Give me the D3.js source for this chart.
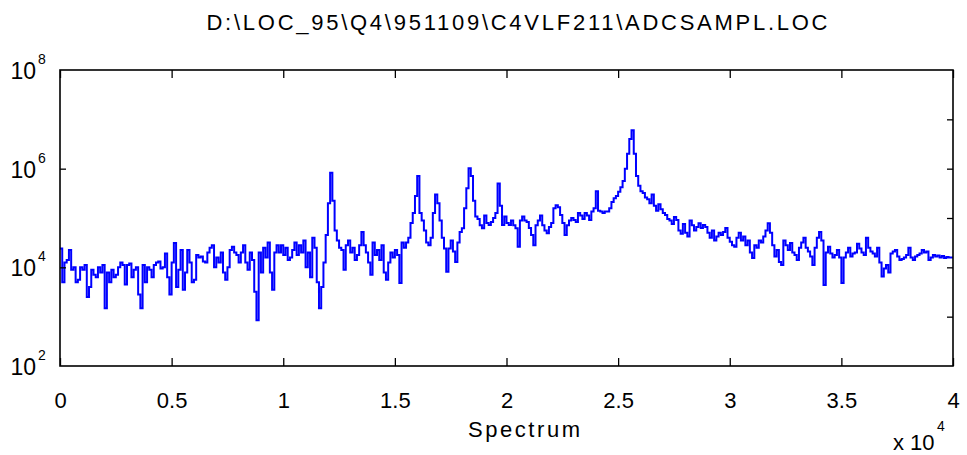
<!DOCTYPE html>
<html>
<head>
<meta charset="utf-8">
<script src="https://cdn.jsdelivr.net/npm/d3@7"></script>
<style>
  body { margin: 0; background: #fff; }
  text { font-family: "Liberation Sans", Arial, sans-serif; fill: #000; }
</style>
</head>
<body>
<div id="chart"></div>
<script>
// ---- data ----
const titleText = "D:\\LOC_95\\Q4\\951109\\C4VLF211\\ADCSAMPL.LOC";
const xLabel = "Spectrum";
const xTicks = [0, 5000, 10000, 15000, 20000, 25000, 30000, 35000, 40000];
const xTickLabels = ["0", "0.5", "1", "1.5", "2", "2.5", "3", "3.5", "4"];
const yLabelExps = ["2", "4", "6", "8"];
const yLabelValues = [1e2, 1e4, 1e6, 1e8];
const yRightTicks = [1e3, 1e4, 1e5, 1e6, 1e7];
const yLeftTicks = [1e4, 1e6];

// spectrum sampled every 100 (x units), 0 .. 40000
const freqStep = 100;
const power = [
  2.4e4, 5.0e3, 1.26e4, 1.41e4, 2.24e4, 8.9e3, 1.0e4, 5.0e3, 5.6e3, 1.0e4,
  8.9e3, 1.12e4, 2.5e3, 4.0e3, 8.9e3, 7.1e3, 6.3e3, 1.0e4, 7.9e3, 1.12e4,
  1.48e3, 7.9e3, 5.0e3, 8.9e3, 6.3e3, 7.1e3, 1.0e4, 1.26e4, 1.12e4, 4.5e3,
  1.12e4, 1.2e4, 6.3e3, 8.9e3, 1.0e4, 2.8e3, 1.48e3, 1.12e4, 5.0e3, 1.0e4,
  8.9e3, 6.3e3, 1.12e4, 1.26e4, 1.32e4, 9.5e3, 1.0e4, 1.9e4, 6.3e3, 2.8e3,
  1.26e4, 3.1e4, 4.0e3, 8.9e3, 2.24e4, 3.5e3, 7.9e3, 2.24e4, 1.26e4, 5.0e3,
  5.6e3, 1.78e4, 1.58e4, 1.66e4, 1.32e4, 1.26e4, 2.0e4, 2.5e4, 2.8e4, 1.0e4,
  1.58e4, 1.26e4, 2.0e4, 7.9e3, 5.6e3, 1.0e4, 2.24e4, 2.6e4, 2.0e4, 1.78e4,
  1.26e4, 2.0e4, 2.8e4, 1.26e4, 8.9e3, 2.0e4, 1.41e4, 3.2e3, 8.5e2, 2.0e4,
  7.9e3, 2.5e4, 1.58e4, 3.2e4, 7.9e3, 3.5e3, 2.0e4, 2.8e4, 2.0e4, 2.8e4,
  1.78e4, 2.5e4, 1.41e4, 1.58e4, 2.24e4, 3.2e4, 1.78e4, 2.8e4, 2.0e4, 3.5e4,
  1.0e4, 2.0e4, 6.3e3, 4.0e4, 2.5e4, 5.0e3, 1.48e3, 4.0e3, 1.26e4, 4.5e4,
  2.0e5, 8.3e5, 2.24e5, 5.6e4, 3.5e4, 2.5e4, 2.24e4, 8.9e3, 2.8e4, 3.5e4,
  2.0e4, 2.5e4, 1.41e4, 1.78e4, 2.8e4, 5.2e4, 2.8e4, 2.0e4, 1.26e4, 7.1e3,
  3.2e4, 1.78e4, 2.24e4, 1.41e4, 2.8e4, 7.9e3, 5.6e3, 1.26e4, 2.0e4, 1.58e4,
  2.24e4, 1.78e4, 4.8e3, 3.2e4, 2.5e4, 3.2e4, 4.0e4, 7.9e4, 1.26e5, 2.8e5,
  7.1e5, 1.26e5, 8.9e4, 5.6e4, 3.2e4, 2.8e4, 4.0e4, 1.26e5, 3.0e5, 2.0e5,
  8.9e4, 4.0e4, 2.4e4, 8.1e3, 2.4e4, 3.5e4, 2.1e4, 1.29e4, 3.2e4, 5.2e4,
  6.2e4, 1.58e5, 4.0e5, 1.02e6, 7.1e5, 2.24e5, 1.07e5, 9.5e4, 7.1e4, 6.2e4,
  1.12e5, 7.9e4, 7.2e4, 8.3e4, 1.0e5, 1.26e5, 5.0e5, 1.78e5, 7.2e4, 1.07e5,
  7.9e4, 7.2e4, 8.9e4, 7.1e4, 6.2e4, 2.6e4, 8.9e4, 1.07e5, 8.9e4, 8.3e4,
  6.3e4, 4.5e4, 2.8e4, 7.1e4, 8.9e4, 1.12e5, 7.1e4, 5.6e4, 4.9e4, 6.6e4,
  7.9e4, 1.58e5, 1.82e5, 1.66e5, 1.15e5, 7.9e4, 4.5e4, 7.1e4, 8.9e4, 1.0e5,
  9.1e4, 8.3e4, 1.26e5, 1.12e5, 9.5e4, 1.26e5, 1.12e5, 9.1e4, 1.35e5, 1.58e5,
  3.5e5, 1.41e5, 1.35e5, 1.26e5, 1.35e5, 1.35e5, 1.58e5, 2.1e5, 2.5e5, 2.8e5,
  3.4e5, 4.2e5, 5.6e5, 1.0e6, 2.0e6, 4.0e6, 6.0e6, 2.0e6, 7.1e5, 4.5e5,
  3.5e5, 3.2e5, 2.6e5, 2.4e5, 2.0e5, 3.0e5, 1.78e5, 1.41e5, 1.9e5, 1.51e5,
  1.26e5, 1.15e5, 9.5e4, 8.9e4, 7.6e4, 1.05e5, 9.1e4, 5.6e4, 4.8e4, 7.6e4,
  5.0e4, 4.2e4, 8.9e4, 7.1e4, 5.6e4, 6.6e4, 7.8e4, 6.3e4, 7.2e4, 6.6e4,
  5.0e4, 4.0e4, 5.6e4, 3.5e4, 4.2e4, 5.0e4, 4.5e4, 5.2e4, 6.3e4, 4.0e4,
  3.3e4, 2.8e4, 2.6e4, 4.0e4, 5.0e4, 3.5e4, 4.2e4, 2.8e4, 3.5e4, 2.0e4,
  1.55e4, 2.8e4, 2.5e4, 3.5e4, 3.2e4, 4.2e4, 5.6e4, 7.8e4, 5.0e4, 2.8e4,
  1.66e4, 2.24e4, 1.29e4, 1.12e4, 3.5e4, 2.8e4, 2.24e4, 3.1e4, 2.0e4, 1.78e4,
  1.41e4, 2.5e4, 3.2e4, 4.0e4, 2.5e4, 2.1e4, 1.66e4, 1.12e4, 2.5e4, 4.0e4,
  5.2e4, 3.5e4, 4.4e3, 2.0e4, 2.6e4, 1.9e4, 1.58e4, 1.78e4, 2.24e4, 1.58e4,
  4.8e3, 1.58e4, 2.0e4, 2.5e4, 1.66e4, 1.9e4, 2.0e4, 3.0e4, 2.4e4, 2.0e4,
  1.78e4, 4.0e4, 2.5e4, 2.1e4, 1.9e4, 1.66e4, 2.5e4, 1.26e4, 6.5e3, 9.5e3,
  1.12e4, 7.9e3, 1.9e4, 2.1e4, 2.24e4, 1.66e4, 1.41e4, 1.48e4, 1.58e4, 1.78e4,
  2.5e4, 1.58e4, 1.41e4, 1.66e4, 1.78e4, 1.9e4, 2.24e4, 2.0e4, 2.1e4, 1.41e4,
  1.58e4, 1.78e4, 1.66e4, 1.74e4, 1.58e4, 1.7e4, 1.55e4, 1.62e4, 1.58e4, 1.58e4,
  1.58e4
];

// ---- layout ----
const width = 967, height = 455;
const margin = { top: 70, right: 14, bottom: 89, left: 60 };
const plotW = width - margin.left - margin.right;
const plotH = height - margin.top - margin.bottom;

const svg = d3.select("#chart").append("svg")
  .attr("width", width)
  .attr("height", height);

const x = d3.scaleLinear().domain([0, 40000]).range([margin.left, margin.left + plotW]);
const y = d3.scaleLog().domain([1e2, 1e8]).range([margin.top + plotH, margin.top]);

// trace
const line = d3.line()
  .x((d, i) => x(i * freqStep))
  .y(d => y(d))
  .curve(d3.curveStepAfter);

svg.append("path")
  .datum(power)
  .attr("fill", "none")
  .attr("stroke", "#0000ff")
  .attr("stroke-width", 2)
  .attr("d", line);

// axes with inward ticks
const bottomAxis = svg.append("g")
  .attr("transform", `translate(0,${margin.top + plotH})`)
  .call(d3.axisBottom(x).tickValues(xTicks).tickSize(-8).tickPadding(26)
    .tickFormat((d, i) => xTickLabels[i]));

svg.append("g")
  .attr("transform", `translate(0,${margin.top})`)
  .call(d3.axisTop(x).tickValues(xTicks).tickSize(-8).tickFormat(""));

svg.append("g")
  .attr("transform", `translate(${margin.left},0)`)
  .call(d3.axisLeft(y).tickValues(yLeftTicks).tickSize(-6).tickFormat(""));

svg.append("g")
  .attr("transform", `translate(${margin.left + plotW},0)`)
  .call(d3.axisRight(y).tickValues(yRightTicks).tickSize(-6).tickFormat(""));

svg.selectAll(".domain").remove();
svg.selectAll(".tick line").attr("stroke", "#000").attr("stroke-width", 1.3);

bottomAxis.selectAll("text")
  .attr("font-size", 22)
  .attr("font-family", null)
  .attr("fill", "#000");

// frame
svg.append("rect")
  .attr("x", margin.left)
  .attr("y", margin.top)
  .attr("width", plotW)
  .attr("height", plotH)
  .attr("fill", "none")
  .attr("stroke", "#000")
  .attr("stroke-width", 1.6);

// y labels 10^n
const yLab = svg.append("g");
yLabelValues.forEach((v, i) => {
  yLab.append("text")
    .attr("x", 36)
    .attr("y", y(v) + 9)
    .attr("text-anchor", "end")
    .attr("font-size", 23)
    .text("10");
  yLab.append("text")
    .attr("x", 38)
    .attr("y", y(v) - 6)
    .attr("font-size", 14)
    .text(yLabelExps[i]);
});

// title
svg.append("text")
  .attr("x", 517)
  .attr("y", 30)
  .attr("text-anchor", "middle")
  .attr("font-size", 22)
  .attr("textLength", 621)
  .attr("lengthAdjust", "spacing")
  .text(titleText);

// x label
svg.append("text")
  .attr("x", 524)
  .attr("y", 437)
  .attr("text-anchor", "middle")
  .attr("font-size", 22)
  .attr("textLength", 112)
  .attr("lengthAdjust", "spacing")
  .text(xLabel);

// x multiplier
svg.append("text")
  .attr("x", 893)
  .attr("y", 450)
  .attr("font-size", 22)
  .text("x 10");
svg.append("text")
  .attr("x", 937)
  .attr("y", 431)
  .attr("font-size", 14)
  .text("4");
</script>
</body>
</html>
